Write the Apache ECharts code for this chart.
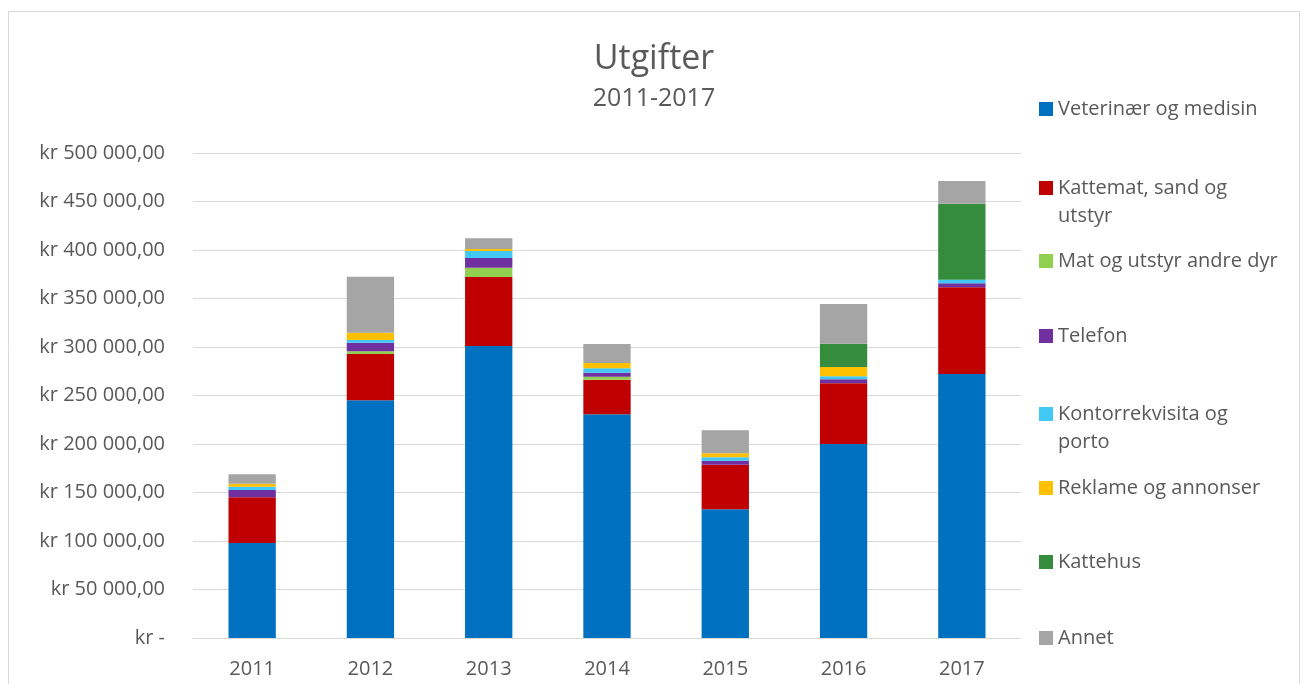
<!DOCTYPE html>
<html>
<head>
<meta charset="utf-8">
<script src="https://cdn.jsdelivr.net/npm/echarts@6/dist/echarts.min.js"></script>
<style>
  html, body { margin: 0; padding: 0; background: #fff; }
  #chart { width: 1308px; height: 684px; }
</style>
</head>
<body>
<div id="chart"></div>
<script>
// år
var years = ["2011", "2012", "2013", "2014", "2015", "2016", "2017"];

// utgifter per kategori (kr), lest av figuren
var veterinaer = [98000, 245000, 301000, 230600, 132700, 200000, 272200];
var kattemat = [47000, 47800, 71200, 35700, 46000, 62600, 89300];
var matAndre = [0, 2800, 9600, 3100, 0, 0, 0];
var telefon = [7500, 8900, 10000, 4100, 4100, 4100, 4200];
var kontor = [3500, 2700, 7200, 4500, 3500, 3100, 3700];
var reklame = [3000, 7600, 2000, 5500, 4100, 9600, 0];
var kattehus = [0, 0, 0, 0, 0, 24000, 78400];
var annet = [9700, 57700, 11000, 19500, 23700, 40900, 23300];

var seriesDefs = [
  { name: "Veterinær og medisin", data: veterinaer, color: "#0070C0", top: 95 },
  { name: "Kattemat, sand og utstyr", data: kattemat, color: "#C00000", top: 174, label: "Kattemat, sand og\nutstyr" },
  { name: "Mat og utstyr andre dyr", data: matAndre, color: "#92D050", top: 247 },
  { name: "Telefon", data: telefon, color: "#7030A0", top: 322 },
  { name: "Kontorrekvisita og porto", data: kontor, color: "#41C8F5", top: 400, label: "Kontorrekvisita og\nporto" },
  { name: "Reklame og annonser", data: reklame, color: "#FFC000", top: 474 },
  { name: "Kattehus", data: kattehus, color: "#358C3C", top: 548 },
  { name: "Annet", data: annet, color: "#A5A5A5", top: 624 }
];

// firkant øverst, usynlig punkt nederst -> markøren står ved første linje
var topSquare = "path://M0,0h14v14h-14z M0,41.99h0.01v0.01h-0.01z";

var chart = echarts.init(document.getElementById("chart"));

function fmtKr(v) {
  if (v === 0) return "kr -";
  var s = String(v).replace(/\B(?=(\d{3})+(?!\d))/g, " ");
  return "kr " + s + ",00";
}

var labelMap = {};
seriesDefs.forEach(function (d) { labelMap[d.name] = d.label || d.name; });

var option = {
  animation: false,
  textStyle: { fontFamily: "Open Sans" },
  title: [
    {
      text: "Utgifter",
      left: "center",
      top: 37,
      textStyle: { fontSize: 34, fontWeight: "normal", color: "#595959", fontFamily: "Open Sans" }
    },
    {
      text: "2011-2017",
      left: "center",
      top: 81,
      textStyle: { fontSize: 25, fontWeight: "normal", color: "#595959", fontFamily: "Open Sans" }
    }
  ],
  legend: seriesDefs.map(function (d) {
    var twoLines = !!d.label;
    return {
      data: [d.name],
      left: 1039,
      top: d.top,
      padding: 0,
      orient: "vertical",
      icon: twoLines ? topSquare : "rect",
      itemWidth: 14,
      itemHeight: twoLines ? 42 : 14,
      selectedMode: false,
      formatter: function (n) { return labelMap[n]; },
      textStyle: { fontSize: 20, color: "#595959", lineHeight: 28, fontFamily: "Open Sans" }
    };
  }),
  grid: { left: 193, right: 287, top: 153, bottom: 46 },
  xAxis: {
    type: "category",
    data: years,
    axisLine: { lineStyle: { color: "#d9d9d9" } },
    axisTick: { show: false },
    axisLabel: { fontSize: 20, color: "#595959", margin: 21 }
  },
  yAxis: {
    type: "value",
    min: 0,
    max: 500000,
    interval: 50000,
    axisLine: { show: false },
    axisTick: { show: false },
    splitLine: { lineStyle: { color: "#d9d9d9" } },
    axisLabel: { fontSize: 20, color: "#595959", margin: 28, formatter: fmtKr }
  },
  series: seriesDefs.map(function (d) {
    return {
      name: d.name,
      type: "bar",
      stack: "total",
      data: d.data,
      barWidth: "40%",
      itemStyle: { color: d.color }
    };
  }),
  graphic: [
    {
      type: "rect",
      shape: { x: 8.5, y: 11.5, width: 1291, height: 690 },
      style: { fill: "none", stroke: "#d9d9d9", lineWidth: 1 },
      silent: true,
      z: -10
    }
  ]
};

chart.setOption(option);
</script>
</body>
</html>
